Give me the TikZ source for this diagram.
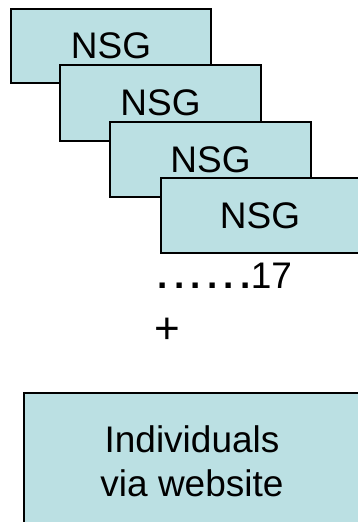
\documentclass[tikz,border=0pt]{standalone}
\usepackage{fontspec}
\setmainfont{Liberation Sans}
\definecolor{boxfill}{RGB}{187,224,227}
\begin{document}
\begin{tikzpicture}[x=1pt,y=-1pt,
  nsgbox/.style={draw=black,line width=1.5pt,fill=boxfill,inner sep=0pt,
    font=\fontsize{37}{44}\selectfont},
  plain/.style={inner sep=0pt,font=\fontsize{37}{44}\selectfont}]
\useasboundingbox (0,0) rectangle (358,522);
\clip (0,0) rectangle (358,522);
\fill[white] (0,0) rectangle (358,522);
\node[nsgbox,minimum width=200pt,minimum height=74pt] (b1) at (111,46) {NSG};
\node[nsgbox,minimum width=201pt,minimum height=76pt] (b2) at (160.5,103) {NSG};
\node[nsgbox,minimum width=201pt,minimum height=75pt] (b3) at (210.5,159.5) {NSG};
\node[nsgbox,minimum width=198pt,minimum height=75pt] (b4) at (260,215.5) {NSG};
\node[plain,anchor=base west] (dots) at (157.4,288.5) {{\bfseries .\kern6.3pt.\kern6.3pt.\kern6.3pt.\kern6.3pt.\kern6.3pt.}17};
\node[plain,anchor=base west,font=\fontsize{44}{50}\selectfont] (plus) at (154.5,343.5) {+};
\node[nsgbox,minimum width=336pt,minimum height=136pt,align=center] (ind) at (192,461) {Individuals\\via website};
\end{tikzpicture}
\end{document}
